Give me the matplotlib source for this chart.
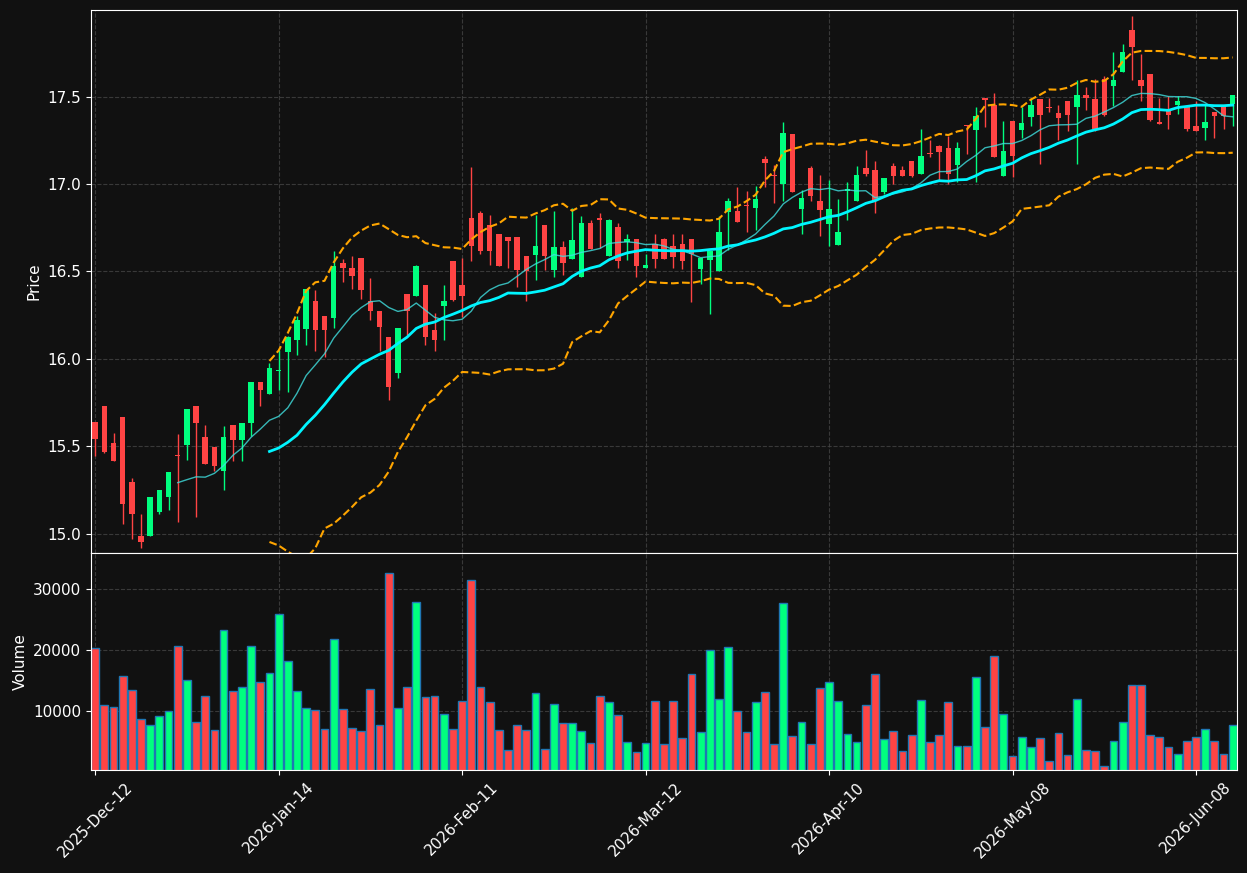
import matplotlib
matplotlib.use("Agg")
import matplotlib.pyplot as plt
import numpy as np
import pandas as pd

tick_labels = ['2025-Dec-12', '2026-Jan-14', '2026-Feb-11', '2026-Mar-12',
               '2026-Apr-10', '2026-May-08', '2026-Jun-08']

opens = [15.637, 15.732, 15.521, 15.669, 15.297, 14.989, 14.985, 15.122, 15.208, 15.446,
         15.505, 15.732, 15.555, 15.498, 15.356, 15.622, 15.534, 15.631, 15.868, 15.797,
         15.930, 16.037, 16.106, 16.173, 16.333, 16.247, 16.232, 16.550, 16.522, 16.579,
         16.333, 16.276, 16.127, 15.917, 16.373, 16.358, 16.423, 16.167, 16.300, 16.562,
         16.423, 16.806, 16.835, 16.768, 16.716, 16.697, 16.697, 16.590, 16.596, 16.768,
         16.506, 16.642, 16.569, 16.466, 16.779, 16.806, 16.586, 16.756, 16.670, 16.686,
         16.518, 16.657, 16.686, 16.644, 16.659, 16.686, 16.516, 16.567, 16.501, 16.842,
         16.846, 16.877, 16.861, 17.144, 17.053, 16.998, 17.283, 16.859, 17.092, 16.905,
         16.772, 16.649, 16.958, 16.901, 17.094, 17.082, 16.953, 17.104, 17.082, 17.134,
         17.059, 17.176, 17.216, 17.203, 17.111, 17.336, 17.311, 17.494, 17.454, 17.048,
         17.359, 17.311, 17.382, 17.483, 17.441, 17.403, 17.477, 17.439, 17.506, 17.483,
         17.601, 17.559, 17.639, 17.883, 17.597, 17.626, 17.355, 17.420, 17.450, 17.439,
         17.334, 17.321, 17.413, 17.454, 17.460]

closes = [15.543, 15.469, 15.414, 15.168, 15.110, 14.954, 15.212, 15.252, 15.355, 15.442,
          15.715, 15.631, 15.396, 15.385, 15.555, 15.534, 15.635, 15.868, 15.820, 15.950,
          15.935, 16.125, 16.224, 16.402, 16.163, 16.163, 16.533, 16.518, 16.476, 16.392,
          16.272, 16.180, 15.837, 16.178, 16.272, 16.533, 16.123, 16.110, 16.333, 16.339,
          16.358, 16.644, 16.615, 16.615, 16.529, 16.672, 16.506, 16.501, 16.648, 16.586,
          16.642, 16.546, 16.678, 16.779, 16.629, 16.792, 16.796, 16.558, 16.686, 16.533,
          16.537, 16.573, 16.573, 16.585, 16.558, 16.602, 16.579, 16.619, 16.728, 16.905,
          16.781, 16.872, 16.915, 17.118, 17.048, 17.292, 16.953, 16.920, 16.930, 16.850,
          16.854, 16.726, 16.974, 17.054, 17.059, 16.901, 17.035, 17.048, 17.048, 17.048,
          17.162, 17.171, 17.181, 17.059, 17.203, 17.331, 17.387, 17.479, 17.153, 17.187,
          17.159, 17.346, 17.454, 17.397, 17.436, 17.380, 17.397, 17.506, 17.489, 17.315,
          17.397, 17.597, 17.756, 17.782, 17.559, 17.368, 17.340, 17.397, 17.477, 17.315,
          17.301, 17.355, 17.391, 17.391, 17.506]

highs = [15.640, 15.732, 15.576, 15.669, 15.319, 15.113, 15.212, 15.252, 15.355, 15.570,
         15.715, 15.732, 15.624, 15.498, 15.614, 15.622, 15.635, 15.868, 15.868, 15.977,
         16.053, 16.130, 16.243, 16.402, 16.396, 16.247, 16.615, 16.572, 16.589, 16.579,
         16.465, 16.276, 16.127, 16.178, 16.373, 16.539, 16.423, 16.263, 16.423, 16.562,
         16.575, 17.098, 16.846, 16.823, 16.716, 16.697, 16.697, 16.590, 16.821, 16.768,
         16.848, 16.676, 16.863, 16.819, 16.796, 16.835, 16.800, 16.777, 16.716, 16.686,
         16.600, 16.716, 16.690, 16.716, 16.711, 16.686, 16.579, 16.619, 16.819, 16.920,
         16.983, 16.958, 16.987, 17.159, 17.110, 17.353, 17.283, 16.968, 17.105, 17.054,
         17.025, 16.915, 17.010, 17.101, 17.197, 17.130, 17.035, 17.117, 17.101, 17.134,
         17.315, 17.254, 17.225, 17.277, 17.241, 17.336, 17.441, 17.494, 17.521, 17.359,
         17.359, 17.441, 17.493, 17.483, 17.493, 17.454, 17.477, 17.597, 17.555, 17.600,
         17.620, 17.756, 17.802, 17.963, 17.744, 17.626, 17.493, 17.502, 17.502, 17.439,
         17.473, 17.450, 17.413, 17.454, 17.506]

lows = [15.442, 15.459, 15.414, 15.053, 14.970, 14.918, 14.985, 15.110, 15.136, 15.067,
        15.422, 15.096, 15.396, 15.356, 15.252, 15.414, 15.414, 15.557, 15.728, 15.797,
        15.820, 15.808, 16.024, 16.081, 16.043, 16.011, 16.177, 16.438, 16.400, 16.343,
        16.220, 16.043, 15.767, 15.891, 16.138, 16.358, 16.081, 16.043, 16.108, 16.331,
        16.240, 16.562, 16.602, 16.539, 16.529, 16.520, 16.411, 16.329, 16.449, 16.506,
        16.469, 16.478, 16.569, 16.466, 16.629, 16.634, 16.586, 16.520, 16.567, 16.469,
        16.518, 16.520, 16.573, 16.520, 16.516, 16.323, 16.428, 16.255, 16.501, 16.625,
        16.781, 16.726, 16.739, 16.983, 16.892, 16.901, 16.953, 16.711, 16.901, 16.701,
        16.648, 16.649, 16.796, 16.901, 17.048, 16.835, 16.945, 17.002, 17.048, 17.041,
        17.059, 17.155, 17.025, 16.997, 17.010, 17.174, 17.010, 17.327, 17.153, 17.048,
        17.038, 17.264, 17.330, 17.115, 17.410, 17.254, 17.302, 17.115, 17.422, 17.300,
        17.390, 17.445, 17.639, 17.593, 17.473, 17.359, 17.340, 17.315, 17.401, 17.302,
        17.301, 17.254, 17.264, 17.315, 17.330]

volumes = [20382, 10929, 10601, 15792, 13388, 8634, 7650, 9126, 9945, 20600,
           15027, 8142, 12404, 6831, 23223, 13224, 13879, 20600, 14699, 16174,
           25846, 18141, 13224, 10437, 10109, 6995, 21748, 10273, 7159, 6667,
           13552, 7650, 32566, 10437, 13879, 27813, 12240, 12404, 9454, 6995,
           11585, 31419, 13879, 11421, 6831, 3552, 7650, 6831, 12896, 3716,
           11093, 7978, 7978, 6667, 4700, 12404, 11421, 9290, 4864, 3224,
           4700, 11585, 4536, 11585, 5520, 16010, 6503, 19945, 11912, 20436,
           9945, 6503, 11421, 13060, 4536, 27649, 5847, 8142, 4536, 13716,
           14699, 11585, 6175, 4864, 10929, 16010, 5356, 6667, 3388, 6011,
           11749, 4864, 6011, 11421, 4208, 4208, 15519, 7323, 18961, 9454,
           2569, 5683, 4044, 5520, 1749, 6339, 2733, 11912, 3552, 3388,
           929, 5028, 8142, 14207, 14207, 6011, 5683, 4044, 2897, 5028,
           5683, 6995, 5028, 2897, 7650]

bg = '#111111'
up_color = '#00ff7f'
down_color = '#ff4444'

x = np.arange(len(closes))
o = np.array(opens)
c = np.array(closes)
colors = [up_color if cc >= oo else down_color for oo, cc in zip(o, c)]

close_s = pd.Series(c)
ma10 = close_s.rolling(10).mean()
ma20 = close_s.rolling(20).mean()
std20 = close_s.rolling(20).std()
upper = ma20 + 2 * std20
lower = ma20 - 2 * std20

fig = plt.figure(figsize=(12.47, 8.73), dpi=100, facecolor=bg)
ax = fig.add_axes([0.073, 0.3666, 0.919, 0.622])
axv = fig.add_axes([0.073, 0.118, 0.919, 0.2486], sharex=ax)

for a in (ax, axv):
    a.set_facecolor(bg)
    for sp in a.spines.values():
        sp.set_color('white')
    a.tick_params(colors='white', labelsize=11)
    a.grid(True, color='#444444', linestyle='--', linewidth=0.8, alpha=0.8)
    a.set_axisbelow(True)

# candles
ax.vlines(x, lows, highs, color=colors, linewidth=1)
body = np.maximum(np.abs(c - o), 0.006)
ax.bar(x, body, bottom=np.minimum(o, c), width=0.6, color=colors)

ax.plot(x, ma10, color='#40e0e0', linewidth=1, alpha=0.8)
ax.plot(x, ma20, color='#00f5ff', linewidth=2)
ax.plot(x, upper, color='orange', linestyle='--', linewidth=1.5)
ax.plot(x, lower, color='orange', linestyle='--', linewidth=1.5)

ax.set_ylim(14.89, 17.995)
ax.set_ylabel('Price', color='white', fontsize=11)
ax.tick_params(axis='x', labelbottom=False, length=0)

axv.bar(x, volumes, width=0.85, color=colors, edgecolor='#1f77b4', linewidth=1)
axv.set_ylim(330, 35900)
axv.set_ylabel('Volume', color='white', fontsize=11)

ticks = np.arange(0, len(closes), 20)
axv.set_xticks(ticks)
axv.set_xticklabels(tick_labels, rotation=45)
axv.set_xlim(-0.45, 124.47)

fig.savefig('out.png', dpi=100, facecolor=bg)
